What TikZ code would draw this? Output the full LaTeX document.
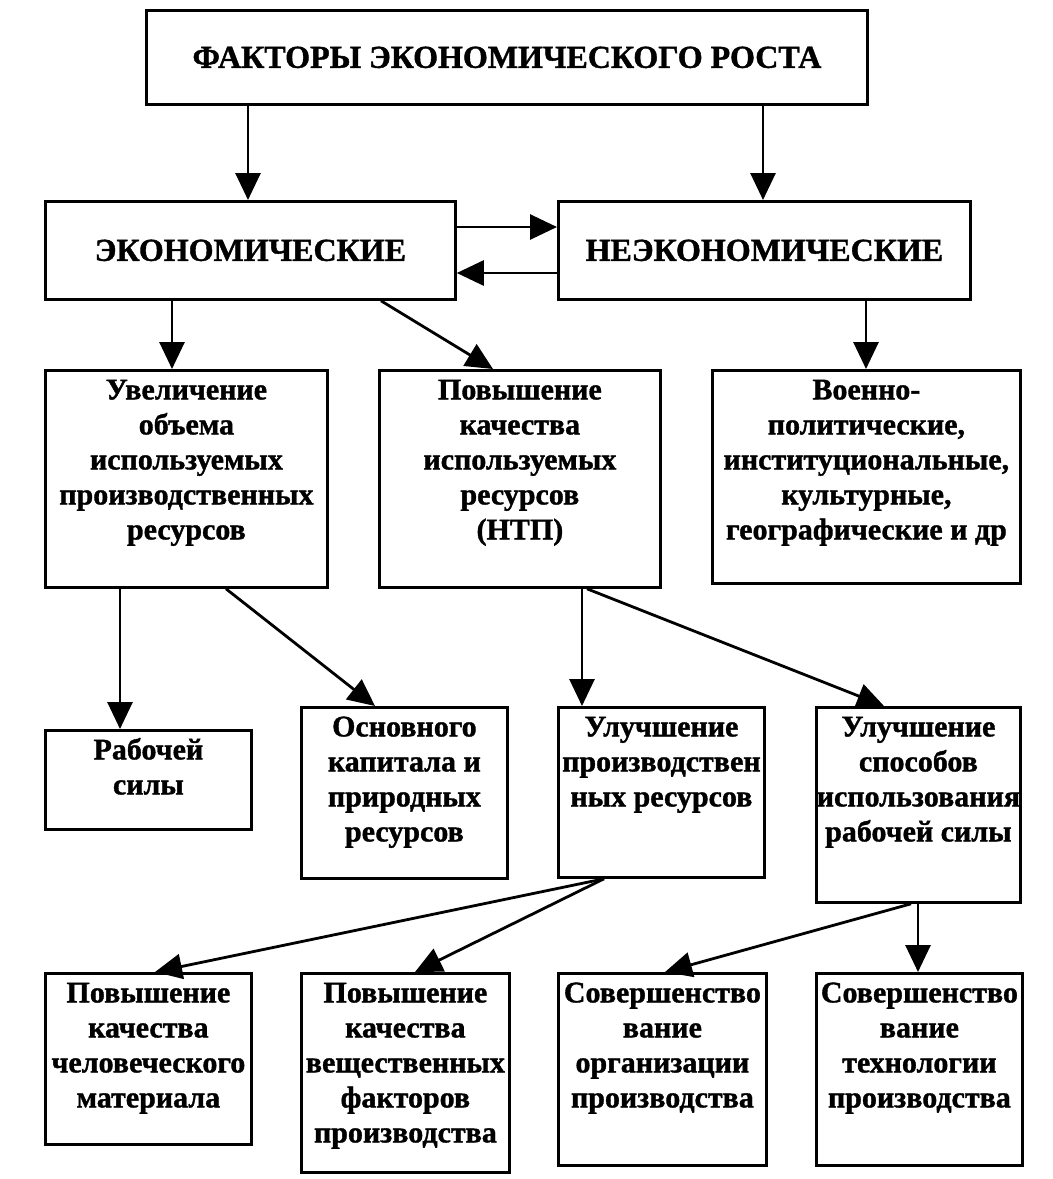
\documentclass[tikz,border=0pt]{standalone}
\usepackage{fontspec}
\setmainfont{Liberation Serif}[BoldFeatures={FakeBold=1.2}]
\usetikzlibrary{arrows.meta}
\tikzset{
 bx/.style={draw, line width=2.8pt, inner sep=0pt, anchor=north west, font=\bfseries\fontsize{30}{35}\selectfont},
 cbx/.style={bx, align=center, font=\bfseries\fontsize{32}{38}\selectfont},
 ar/.style={line width=2.8pt, -{Triangle[length=27pt,width=25pt]}},
}
\newcommand\mkbox[6]{%
 \node[bx, minimum width={#4pt-#2pt}, minimum height={#5pt-#3pt}] (#1) at (#2,#3)
 {\pgfmathsetlengthmacro\bw{#4pt-#2pt}\pgfmathsetlengthmacro\bh{#5pt-#3pt}%
  \parbox[c][\bh][t]{\bw}{\centering\rule{0pt}{29pt}#6}};}
\newcommand\mkcbox[6]{%
 \node[cbx, minimum width={#4pt-#2pt}, minimum height={#5pt-#3pt}] (#1) at (#2,#3) {#6};}
\begin{document}
\begin{tikzpicture}[x=1pt,y=-1pt]
\useasboundingbox (0,0) rectangle (1053,1179);
\mkcbox{top}{145}{9}{866}{103}{ФАКТОРЫ ЭКОНОМИЧЕСКОГО РОСТА}
\mkcbox{ek}{44}{200}{454}{298}{ЭКОНОМИЧЕСКИЕ}
\mkcbox{nek}{557}{200}{969}{298}{НЕЭКОНОМИЧЕСКИЕ}
\mkbox{uv}{44}{369}{326}{586}{Увеличение\\объема\\используемых\\производственных\\ресурсов}
\mkbox{ntp}{378}{369}{659}{586}{Повышение\\качества\\используемых\\ресурсов\\(НТП)}
\mkbox{voen}{711}{369}{1019}{582}{Военно-\\политические,\\институциональные,\\культурные,\\географические и др}
\mkbox{rab}{44}{729}{250}{828}{Рабочей\\силы}
\mkbox{osn}{300}{706}{506}{877}{Основного\\капитала и\\природных\\ресурсов}
\mkbox{ul}{557}{706}{763}{876}{Улучшение\\производствен\\ных ресурсов}
\mkbox{sp}{815}{706}{1019}{901}{Улучшение\\способов\\использования\\рабочей силы}
\mkbox{b1}{44}{972}{250}{1143}{Повышение\\качества\\человеческого\\материала}
\mkbox{b2}{300}{972}{508}{1171}{Повышение\\качества\\вещественных\\факторов\\производства}
\mkbox{b3}{557}{972}{765}{1164}{Совершенство\\вание\\организации\\производства}
\mkbox{b4}{815}{972}{1021}{1164}{Совершенство\\вание\\технологии\\производства}

\draw[ar] ([xshift=103pt]top.south west) -- ([xshift=204pt]ek.north west);
\draw[ar] ([xshift=618pt]top.south west) -- ([xshift=206pt]nek.north west);
\draw[ar] ([yshift=-27pt]ek.north east) -- ([yshift=-27pt]nek.north west);
\draw[ar] ([yshift=-73pt]nek.north west) -- ([yshift=-73pt]ek.north east);
\draw[ar] ([xshift=128pt]ek.south west) -- ([xshift=128pt]uv.north west);
\draw[ar] ([xshift=337pt]ek.south west) -- ([xshift=115pt]ntp.north west);
\draw[ar] ([xshift=309pt]nek.south west) -- ([xshift=155pt]voen.north west);
\draw[ar] ([xshift=76pt]uv.south west) -- ([xshift=76pt]rab.north west);
\draw[ar] ([xshift=182pt]uv.south west) -- ([xshift=75pt]osn.north west);
\draw[ar] ([xshift=204pt]ntp.south west) -- ([xshift=25pt]ul.north west);
\draw[ar] ([xshift=209pt]ntp.south west) -- ([xshift=69pt]sp.north west);
\draw[ar] ([xshift=47pt]ul.south west) -- ([xshift=111pt]b1.north west);
\draw[ar] ([xshift=47pt]ul.south west) -- ([xshift=115pt]b2.north west);
\draw[ar] ([xshift=96pt]sp.south west) -- ([xshift=108pt]b3.north west);
\draw[ar] ([xshift=103pt]sp.south west) -- ([xshift=103pt]b4.north west);
\end{tikzpicture}
\end{document}
